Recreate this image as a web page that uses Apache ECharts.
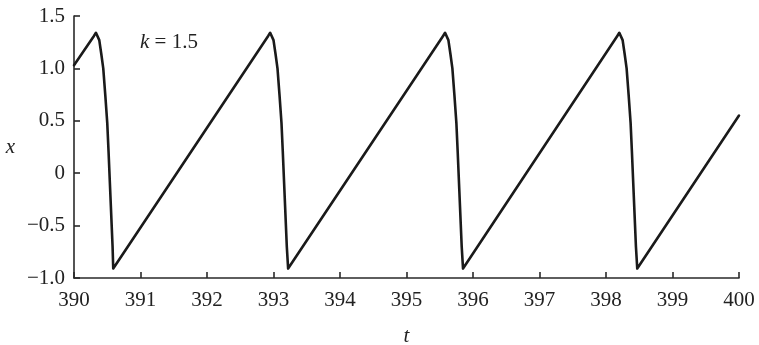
<!DOCTYPE html>
<html>
<head>
<meta charset="utf-8">
<script src="https://cdn.jsdelivr.net/npm/echarts@6/dist/echarts.min.js"></script>
<style>
  html, body { margin: 0; padding: 0; background: #fff; }
  #chart { width: 759px; height: 345px; }
</style>
</head>
<body>
<div id="chart"></div>
<script>
// time points (t)
const tVals = [
  390.00,
  390.30, 390.33, 390.35, 390.38, 390.41, 390.44, 390.47, 390.50, 390.52, 390.54, 390.56, 390.58, 390.59,
  392.92, 392.95, 392.97, 393.00, 393.03, 393.06, 393.09, 393.12, 393.14, 393.16, 393.18, 393.20, 393.22,
  395.55, 395.58, 395.60, 395.63, 395.66, 395.69, 395.72, 395.75, 395.77, 395.79, 395.81, 395.83, 395.85,
  398.17, 398.20, 398.22, 398.25, 398.28, 398.31, 398.34, 398.37, 398.39, 398.41, 398.43, 398.45, 398.47,
  400.00
]
// x values at those times
const xVals = [
  1.03,
  1.31, 1.34, 1.33, 1.27, 1.14, 1.00, 0.75, 0.48, 0.20, -0.10, -0.40, -0.70, -0.91,
  1.31, 1.34, 1.33, 1.27, 1.14, 1.00, 0.75, 0.48, 0.20, -0.10, -0.40, -0.70, -0.91,
  1.31, 1.34, 1.33, 1.27, 1.14, 1.00, 0.75, 0.48, 0.20, -0.10, -0.40, -0.70, -0.91,
  1.31, 1.34, 1.33, 1.27, 1.14, 1.00, 0.75, 0.48, 0.20, -0.10, -0.40, -0.70, -0.91,
  0.55
]
const yTickLabels = { '-1': '\u22121.0', '-0.5': '\u22120.5', '0': '0', '0.5': '0.5', '1': '1.0', '1.5': '1.5' }

const serif = 'Liberation Serif'
const textColor = '#222'
const axisStyle = { color: '#2a2a2a', width: 1.6 }

const chart = echarts.init(document.getElementById('chart'))
chart.setOption({
  animation: false,
  grid: { left: 74, right: 20, top: 16, bottom: 67, outerBoundsMode: 'none' },
  xAxis: {
    type: 'value',
    min: 390,
    max: 400,
    interval: 1,
    name: 't',
    nameLocation: 'middle',
    nameGap: 48,
    nameTextStyle: { fontFamily: serif, fontStyle: 'italic', fontSize: 21, color: textColor },
    axisLine: { show: true, onZero: false, lineStyle: axisStyle },
    axisTick: { show: true, inside: true, length: 6, lineStyle: axisStyle },
    axisLabel: { fontFamily: serif, fontSize: 21, color: textColor, margin: 12 },
    splitLine: { show: false }
  },
  yAxis: {
    type: 'value',
    min: -1,
    max: 1.5,
    interval: 0.5,
    name: 'x',
    nameLocation: 'middle',
    nameRotate: 0,
    nameGap: 59,
    nameTextStyle: { fontFamily: serif, fontStyle: 'italic', fontSize: 21, color: textColor },
    axisLine: { show: true, onZero: false, lineStyle: axisStyle },
    axisTick: { show: true, inside: true, length: 6, lineStyle: axisStyle },
    axisLabel: {
      fontFamily: serif, fontSize: 21, color: textColor, margin: 9,
      formatter: function(v) { return yTickLabels[String(v)] || String(v) }
    },
    splitLine: { show: false }
  },
  graphic: [{
    type: 'text',
    left: 140,
    top: 32,
    style: {
      text: '{i|k} = 1.5',
      fontFamily: serif,
      fontSize: 21,
      fill: textColor,
      rich: {
        i: { fontFamily: serif, fontStyle: 'italic', fontSize: 21, fill: textColor }
      }
    }
  }],
  series: [{
    type: 'line',
    data: tVals.map(function(t, i) { return [t, xVals[i]] }),
    showSymbol: false,
    lineStyle: { color: '#1a1a1a', width: 2.6, join: 'round', cap: 'round' }
  }]
})
</script>
</body>
</html>
